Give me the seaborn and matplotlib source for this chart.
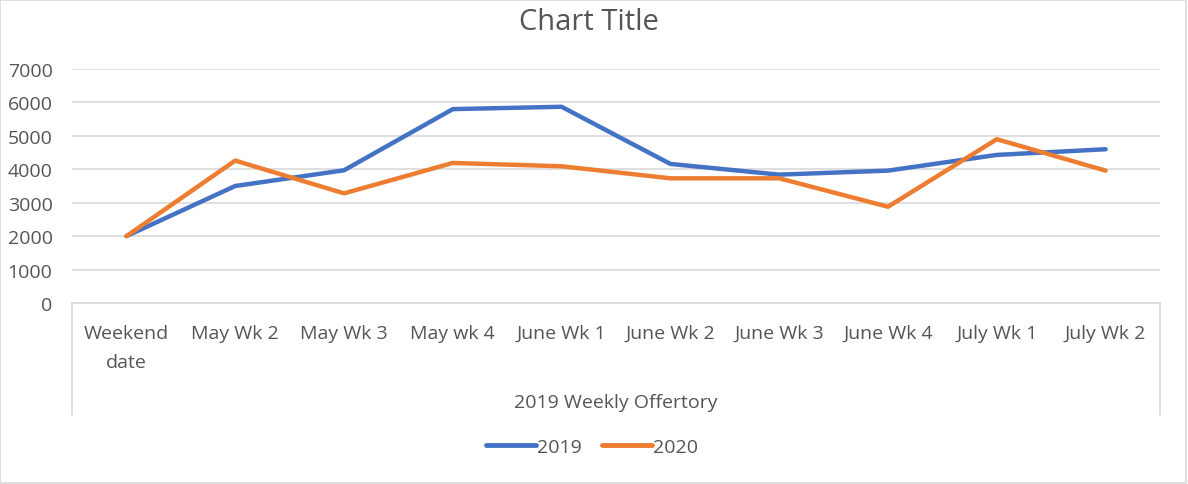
import matplotlib
matplotlib.use("Agg")
import matplotlib.pyplot as plt
import seaborn as sns
import pandas as pd
from matplotlib.lines import Line2D
from matplotlib.patches import Rectangle

categories = ["Weekend\ndate", "May Wk 2", "May Wk 3", "May wk 4", "June Wk 1",
              "June Wk 2", "June Wk 3", "June Wk 4", "July Wk 1", "July Wk 2"]
values_2019 = [2000, 3500, 3970, 5800, 5870, 4160, 3840, 3960, 4430, 4600]
values_2020 = [2000, 4260, 3280, 4190, 4090, 3730, 3730, 2880, 4900, 3960]
series_names = ["2019", "2020"]
colors = ["#4472C4", "#ED7D31"]
y_ticks = [0, 1000, 2000, 3000, 4000, 5000, 6000, 7000]

sns.set_theme(style="white")
plt.rcParams['font.family'] = ['Open Sans', 'DejaVu Sans']

df = pd.DataFrame({
    "pos": list(range(len(categories))) * 2,
    "value": values_2019 + values_2020,
    "series": [series_names[0]] * len(categories) + [series_names[1]] * len(categories),
})

W, H = 1188, 485
fig = plt.figure(figsize=(W / 100, H / 100), dpi=100)
left, right, top, bottom = 72, 1160, 70, 304
ax = fig.add_axes([left / W, 1 - bottom / H, (right - left) / W, (bottom - top) / H])

sns.lineplot(data=df, x="pos", y="value", hue="series", palette=colors,
             linewidth=3.2, ax=ax, legend=False, sort=False)

text_color = "#555555"
fs = 14
ax.set_xlim(-0.5, len(categories) - 0.5)
ax.set_ylim(0, 7000)
ax.set_yticks(y_ticks)
ax.set_yticklabels([str(t) for t in y_ticks])
ax.set_xticks(range(len(categories)))
ax.set_xticklabels(categories, linespacing=1.8)
ax.tick_params(axis="y", length=0, pad=14, labelsize=fs, labelcolor=text_color)
ax.tick_params(axis="x", length=0, pad=15, labelsize=fs, labelcolor=text_color)
ax.grid(axis="y", color="#D9D9D9", linewidth=1.2)
ax.set_axisbelow(True)
for s in ["left", "right", "top"]:
    ax.spines[s].set_visible(False)
ax.spines["bottom"].set_color("#D9D9D9")
ax.spines["bottom"].set_linewidth(1.2)

ax.set_xlabel("2019 Weekly Offertory", fontsize=fs, color=text_color, labelpad=16)
ax.set_ylabel("")

# multi-level category axis box sides
box_bottom = (bottom - 416) / (bottom - top)
for xx in (0, 1):
    ax.add_line(Line2D([xx, xx], [0, box_bottom], transform=ax.transAxes,
                       color="#D9D9D9", linewidth=1.2, clip_on=False))

fig.text(589 / W, 1 - 22 / H, "Chart Title", ha="center", va="center",
         fontsize=21, color=text_color)

handles = [Line2D([], [], color=c, linewidth=3.5) for c in colors]
fig.legend(handles, series_names, loc="center", bbox_to_anchor=(592 / W, 1 - 448 / H),
           ncol=2, frameon=False, fontsize=fs, labelcolor=text_color,
           handlelength=2.6, handletextpad=0.05, columnspacing=1.0)

fig.patches.append(Rectangle((0, 0.003), 1186 / W, 0.995, transform=fig.transFigure,
                             fill=False, edgecolor="#D9D9D9", linewidth=1.2))

fig.savefig("out.png", dpi=100, facecolor="white")
